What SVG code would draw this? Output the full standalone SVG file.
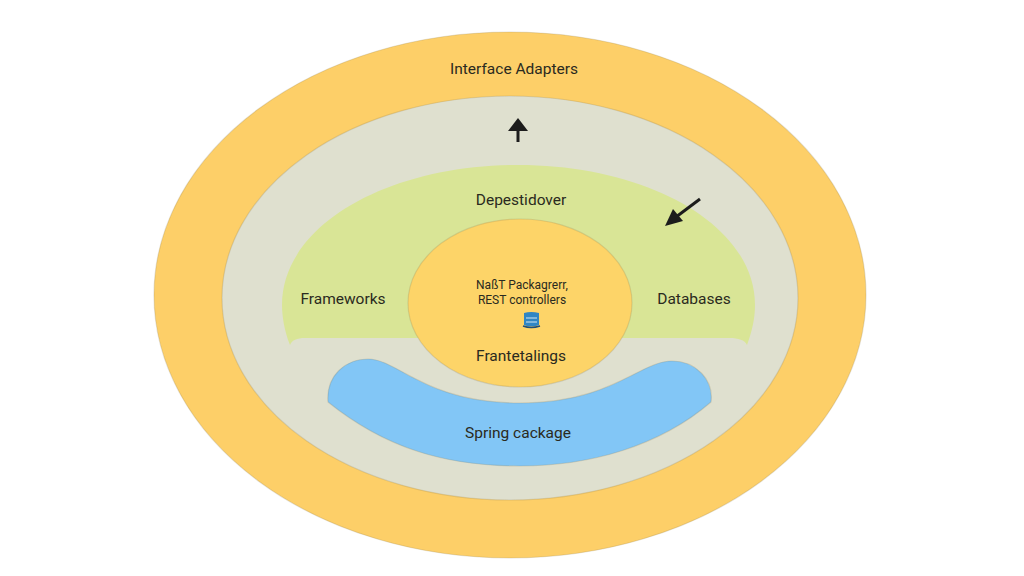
<svg xmlns="http://www.w3.org/2000/svg" width="1024" height="576" viewBox="0 0 1024 576">
<style>
text{font-family:Roboto,"Noto Sans",sans-serif;text-anchor:middle;fill:#2a2a20;font-size:15.5px}
text.small{font-size:12px}
.edge{stroke:#8a7a50;stroke-opacity:.22;stroke-width:1.2}
.arrow{stroke:#1c1c1c;stroke-width:3;fill:none}
.head{fill:#1c1c1c}
</style>
<rect width="1024" height="576" fill="#ffffff"/>
<g id="outer"><ellipse class="edge" cx="510" cy="295" rx="356" ry="263" fill="#fdcf68"/><text x="514" y="74">Interface Adapters</text></g>
<g id="ring"><ellipse class="edge" cx="510" cy="298" rx="288" ry="202" fill="#dfe0cf"/></g>
<g id="green"><path d="M290,345 C284,330 282,315 282,305 C282,225 388,165 518,165 C648,165 755,225 755,305 C755,318 752,332 747,345 C745,340 738,338 730,338 L305,338 C297,338 292,340 290,345Z" fill="#d9e596"/>
<text x="521" y="205">Depestidover</text><text x="343" y="304">Frameworks</text><text x="694" y="304">Databases</text></g>
<g id="blue"><path class="edge" d="M328,402 C326,376 345,359 368,359 C398,359 425,403 520,403 C612,403 640,361 672,361 C696,361 714,380 711,402 C660,446 590,466 520,466 C445,466 385,448 328,402Z" fill="#82c6f6"/><text x="518" y="438">Spring cackage</text></g>
<g id="core"><ellipse class="edge" cx="520" cy="303" rx="112" ry="84" fill="#fdd468"/>
<text class="small" x="522" y="289">NaßT Packagrerr,</text><text class="small" x="522" y="304">REST controllers</text>
<text x="521" y="361">Frantetalings</text>
<g id="db-icon"><path d="M524,313 Q531,311 539,313 L539,325 Q531,328 524,325Z" fill="#2f86c4"/><path d="M526,318H537M526,322H537" stroke="#d5e8f2" stroke-width="1.2"/><path d="M523,326 Q531,329 540,326" stroke="#1f4f78" stroke-width="1.5" fill="none"/></g></g>
<g id="connectors">
<path class="arrow" d="M518,142V128"/><path class="head" d="M518,118 L528,131 L508,131Z"/>
<path class="arrow" d="M700,199 L676,217"/><path class="head" d="M665,226 L673,209 L683,221Z"/>
</g>
</svg>
